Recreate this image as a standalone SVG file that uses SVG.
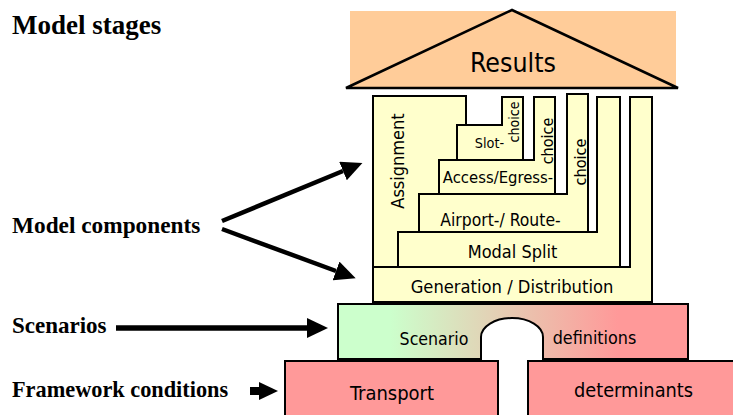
<svg xmlns="http://www.w3.org/2000/svg" width="733" height="415" viewBox="0 0 733 415">
  <defs>
    <linearGradient id="scenarioFill" gradientUnits="userSpaceOnUse" x1="338" y1="0" x2="688" y2="0">
      <stop offset="0.15" stop-color="#CCFFCC"/>
      <stop offset="0.8" stop-color="#FF9999"/>
    </linearGradient>
    <marker id="head" markerUnits="userSpaceOnUse" markerWidth="21" markerHeight="20" viewBox="0 0 21 20" refX="0" refY="10" orient="auto">
      <path d="M0,0 L21,10 L0,20 Z" fill="#000"/>
    </marker>
    <marker id="headSmall" markerUnits="userSpaceOnUse" markerWidth="19" markerHeight="18" viewBox="0 0 19 18" refX="0" refY="9" orient="auto">
      <path d="M0,0 L19,9 L0,18 Z" fill="#000"/>
    </marker>
    <style>
      .label { font-family: "Liberation Serif", "Times New Roman", serif; font-weight: bold; fill: #000; }
      .stage { fill: #FFFFCC; stroke: #000; stroke-width: 2; stroke-linejoin: miter; }
      .txt { font-family: "DejaVu Sans Condensed", "DejaVu Sans", Verdana, sans-serif; font-stretch: condensed; fill: #000; text-anchor: middle; }
      .base { fill: #FF9999; stroke: #000; stroke-width: 2; }
      .conn { stroke: #000; fill: none; }
    </style>
  </defs>

  <!-- left-hand captions -->
  <text class="label" x="12" y="34" font-size="27">Model stages</text>
  <text class="label" x="12" y="233" font-size="23.3">Model components</text>
  <text class="label" x="12" y="333" font-size="23">Scenarios</text>
  <text class="label" x="12" y="397" font-size="22.3">Framework conditions</text>

  <!-- roof -->
  <g id="results">
    <rect x="350" y="11" width="326" height="77" fill="#FFCC99"/>
    <path d="M346,88 L512,10 L678,88 Z" fill="none" stroke="#000" stroke-width="2.5" stroke-linejoin="miter"/>
    <text class="txt" x="513" y="72" font-size="26.5">Results</text>
  </g>

  <!-- nested L-shaped model components -->
  <g id="generation">
    <path class="stage" d="M373,267 H630 V97 H652 V302 H373 Z"/>
    <text class="txt" x="512" y="293" font-size="18.2">Generation / Distribution</text>
  </g>
  <g id="modal-split">
    <path class="stage" d="M398,232 H597 V97 H620 V267 H398 Z"/>
    <text class="txt" x="512.5" y="258" font-size="18">Modal Split</text>
  </g>
  <g id="airport-route">
    <path class="stage" d="M419,194 H567 V94 H588 V232 H419 Z"/>
    <text class="txt" x="500.5" y="226" font-size="17.4">Airport-/ Route-</text>
    <text class="txt" transform="translate(586,162) rotate(-90)" font-size="16.2">choice</text>
  </g>
  <g id="access-egress">
    <path class="stage" d="M439,160 H534 V97 H555 V194 H439 Z"/>
    <text class="txt" x="498" y="183" font-size="16.5">Access/Egress-</text>
    <text class="txt" transform="translate(553,141) rotate(-90)" font-size="16">choice</text>
  </g>
  <g id="slot">
    <path class="stage" d="M457,125 H502 V97 H523 V160 H457 Z"/>
    <text class="txt" x="489.5" y="148" font-size="14.3">Slot-</text>
    <text class="txt" transform="translate(519,122) rotate(-90)" font-size="14">choice</text>
  </g>
  <g id="assignment">
    <path class="stage" d="M373,96 H466 V125 H457 V160 H439 V194 H419 V232 H398 V267 H373 Z"/>
    <text class="txt" transform="translate(404,161) rotate(-90)" font-size="18">Assignment</text>
  </g>

  <!-- scenario layer with arch -->
  <g id="scenario-definitions">
    <path d="M338,304 H688 V359 H543 V337 A31,19 0 0 0 481,337 V359 H338 Z" fill="url(#scenarioFill)" stroke="#000" stroke-width="2"/>
    <text class="txt" x="434" y="345" font-size="17.6">Scenario</text>
    <text class="txt" x="594.5" y="344" font-size="17.8">definitions</text>
  </g>

  <!-- foundation -->
  <g id="transport">
    <rect class="base" x="285" y="361" width="213" height="60"/>
    <text class="txt" x="392" y="400" font-size="20">Transport</text>
  </g>
  <g id="determinants">
    <rect class="base" x="528" y="361" width="212" height="60"/>
    <text class="txt" x="633.5" y="397" font-size="19.8">determinants</text>
  </g>

  <!-- connectors from captions -->
  <g id="connectors">
    <line class="conn" x1="222" y1="221" x2="343" y2="171" stroke-width="4.5" marker-end="url(#head)"/>
    <line class="conn" x1="222" y1="229" x2="336" y2="271" stroke-width="4.5" marker-end="url(#head)"/>
    <line class="conn" x1="116" y1="328" x2="307" y2="328" stroke-width="5.5" marker-end="url(#head)"/>
    <line class="conn" x1="250" y1="391" x2="259" y2="391" stroke-width="8" marker-end="url(#headSmall)"/>
  </g>
</svg>
